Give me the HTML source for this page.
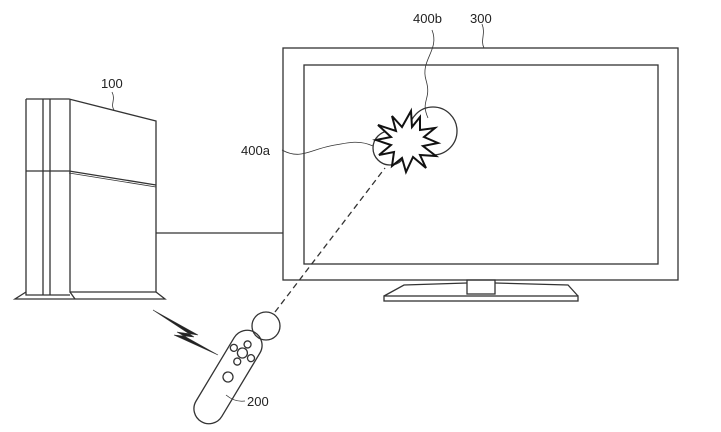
<!DOCTYPE html>
<html><head><style>body{margin:0;background:#fff}svg{display:block}text{font-family:"Liberation Sans",sans-serif;font-size:13px;fill:#222}</style></head><body>
<svg width="721" height="432" viewBox="0 0 721 432" fill="none" stroke="#333" stroke-width="1.3">
<!-- TV -->
<rect x="283" y="48" width="395" height="232"/>
<rect x="304" y="65" width="354" height="199"/>
<rect x="467" y="280" width="28" height="14"/>
<path d="M467 283 L404 285 L384 296 M495 283 L568 285 L578 296"/>
<rect x="384" y="296" width="194" height="5"/>
<!-- console -->
<path d="M26 99 H69 L156 121 V292 H70 V99"/>
<path d="M26 99 V295 H70"/>
<line x1="43" y1="99" x2="43" y2="295"/><line x1="50" y1="99" x2="50" y2="295"/>
<path d="M26 171 H69 L156 185"/><path d="M69 173 L156 187" stroke-width="0.8"/>
<path d="M26 292 L15 299 H165 L156 292"/>
<path d="M70 292 L75 299"/>
<line x1="156" y1="233" x2="283" y2="233"/>
<!-- wireless -->
<path d="M153 310 L198 335 L177 332 L218 355 L174 335 L194 337 Z" fill="#222" stroke-width="0.6"/>
<!-- dashed -->
<line x1="275" y1="312" x2="385" y2="168" stroke-dasharray="6,4"/>
<!-- controller -->
<circle cx="266" cy="326" r="14"/>
<g transform="translate(228,377) rotate(31)">
<rect x="-15" y="-52" width="30" height="104" rx="15"/>
<circle cx="0" cy="-28" r="5"/><circle cx="0" cy="-38" r="3.5"/><circle cx="0" cy="-18" r="3.5"/><circle cx="-10" cy="-28" r="3.5"/><circle cx="10" cy="-28" r="3.5"/>
<circle cx="0" cy="0" r="5"/>
</g>
<!-- circles & starburst -->
<circle cx="390" cy="148" r="17"/>
<circle cx="433" cy="131" r="24"/>
<path d="M378 125 L396 131 L392 116 L402 127 L411 111 L412 127 L420 117 L420 130 L435 128 L424 137 L438 143 L423 146 L436 156 L420 155 L426 168 L413 157 L406 172 L402 158 L392 166 L394 152 L379 155 L391 145 L376 140 L391 137 Z" fill="#fff" stroke="#111" stroke-width="2"/>
<!-- leaders -->
<path d="M282 150 C300 160 310 150 330 146 S360 140 373 146" stroke-width="0.8"/>
<path d="M432 30 C440 50 420 60 426 80 S420 100 428 118" stroke-width="0.8"/>
<path d="M482 24 C486 34 480 40 484 48" stroke-width="0.8"/>
<path d="M112 92 C116 100 110 104 114 110" stroke-width="0.8"/>
<path d="M226 395 C232 400 238 402 245 401" stroke-width="0.8"/>
<g stroke="none">
<text x="101" y="88">100</text>
<text x="241" y="155">400a</text>
<text x="413" y="23">400b</text>
<text x="470" y="23">300</text>
<text x="247" y="406">200</text>
</g>
</svg>
</body></html>
